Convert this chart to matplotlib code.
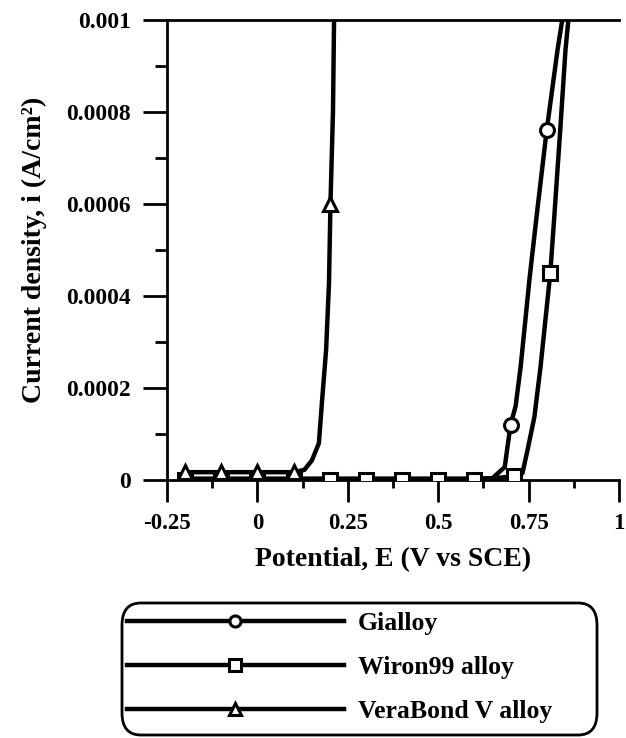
import matplotlib
matplotlib.use("Agg")
import matplotlib.pyplot as plt
from matplotlib.ticker import FixedLocator, FixedFormatter
from matplotlib.patches import FancyBboxPatch

plt.rcParams['font.family'] = ['Liberation Serif', 'DejaVu Serif']
plt.rcParams['font.weight'] = 'bold'

# Data
gialloy_x = [-0.2, -0.1, 0.0, 0.1, 0.2, 0.3, 0.4, 0.5, 0.6, 0.65, 0.684, 0.7, 0.714, 0.728, 0.753, 0.775, 0.8, 0.83, 0.843]
gialloy_y = [3e-6, 3e-6, 3e-6, 3e-6, 3e-6, 3e-6, 3e-6, 3e-6, 3e-6, 4e-6, 2.8e-5, 1.2e-4, 1.6e-4, 2.46e-4, 4.41e-4, 5.93e-4, 7.6e-4, 9.35e-4, 1.0e-3]
gialloy_marks = [0, 11, 16]

wiron_x = [-0.2, -0.1, 0.0, 0.1, 0.2, 0.3, 0.4, 0.5, 0.6, 0.71, 0.733, 0.747, 0.766, 0.783, 0.81, 0.821, 0.838, 0.852, 0.86]
wiron_y = [0, 0, 0, 0, 0, 0, 0, 0, 0, 8e-6, 1.5e-5, 6.5e-5, 1.37e-4, 2.46e-4, 4.5e-4, 5.72e-4, 7.67e-4, 9.35e-4, 1.0e-3]
wiron_marks = [0, 1, 2, 3, 4, 5, 6, 7, 8, 9, 14]

vera_x = [-0.2, -0.1, 0.0, 0.1, 0.13, 0.151, 0.17, 0.179, 0.19, 0.198, 0.202, 0.209, 0.212]
vera_y = [1.7e-5, 1.7e-5, 1.7e-5, 1.7e-5, 2.2e-5, 4.3e-5, 8e-5, 1.74e-4, 2.83e-4, 4.28e-4, 6.0e-4, 8.0e-4, 1.0e-3]
vera_marks = [0, 1, 2, 3, 10]

series_names = ["Gialloy", "Wiron99 alloy", "VeraBond V alloy"]

x_ticks = [-0.25, 0, 0.25, 0.5, 0.75, 1]
x_tick_labels = ["-0.25", "0", "0.25", "0.5", "0.75", "1"]
x_minor = [-0.125, 0.125, 0.375, 0.625, 0.875]
y_ticks = [0, 0.0002, 0.0004, 0.0006, 0.0008, 0.001]
y_tick_labels = ["0", "0.0002", "0.0004", "0.0006", "0.0008", "0.001"]
y_minor = [0.0001, 0.0003, 0.0005, 0.0007, 0.0009]

W, H = 626, 738
fig = plt.figure(figsize=(W / 100, H / 100), dpi=100)
ax = fig.add_axes([167 / W, 1 - 480 / H, (619 - 167) / W, (480 - 20) / H])

style = dict(color='black', lw=3.2, markersize=10, markerfacecolor='white',
             markeredgecolor='black', markeredgewidth=2.2)
ax.plot(gialloy_x, gialloy_y, marker='o', markevery=gialloy_marks, label=series_names[0], zorder=3, **style)
ax.plot(wiron_x, wiron_y, marker='s', markevery=wiron_marks, label=series_names[1], zorder=4, **style)
ax.plot(vera_x, vera_y, marker='^', markevery=vera_marks, label=series_names[2], zorder=5, **style)

ax.set_xlim(-0.25, 1)
ax.set_ylim(0, 0.001)
ax.spines['right'].set_visible(False)
for s in ['left', 'bottom', 'top']:
    ax.spines[s].set_linewidth(2)
ax.xaxis.set_major_locator(FixedLocator(x_ticks))
ax.xaxis.set_major_formatter(FixedFormatter(x_tick_labels))
ax.xaxis.set_minor_locator(FixedLocator(x_minor))
ax.yaxis.set_major_locator(FixedLocator(y_ticks))
ax.yaxis.set_major_formatter(FixedFormatter(y_tick_labels))
ax.yaxis.set_minor_locator(FixedLocator(y_minor))
ax.tick_params(axis='y', which='major', direction='out', length=17, width=2, labelsize=17, pad=9)
ax.tick_params(axis='y', which='minor', direction='out', length=8.5, width=2)
ax.tick_params(axis='x', which='major', direction='out', length=16, width=2, labelsize=16.5, pad=8)
ax.tick_params(axis='x', which='minor', direction='out', length=6, width=2)
for lab in ax.get_xticklabels() + ax.get_yticklabels():
    lab.set_fontweight('bold')

ax.set_xlabel("Potential, E (V vs SCE)", fontsize=20, fontweight='bold', labelpad=9)
ax.set_ylabel("Current density, i (A/cm²)", fontsize=20, fontweight='bold', labelpad=14)

# legend
fs = 18.5
leg = fig.legend(loc='upper left', bbox_to_anchor=(124 / W, 1 - 609 / H),
                 handlelength=8.45, labelspacing=0.82, borderpad=0.1, borderaxespad=0,
                 handletextpad=0.55, numpoints=1, frameon=False, markerscale=0.8,
                 prop={'weight': 'bold', 'size': fs})
box = FancyBboxPatch((122 / W, 1 - 735 / H), (597 - 122) / W, (735 - 603) / H,
                     boxstyle="round,pad=0,rounding_size=0.03", transform=fig.transFigure,
                     facecolor='none', edgecolor='black', linewidth=2)
fig.patches.append(box)

fig.savefig("out.png", dpi=100)
